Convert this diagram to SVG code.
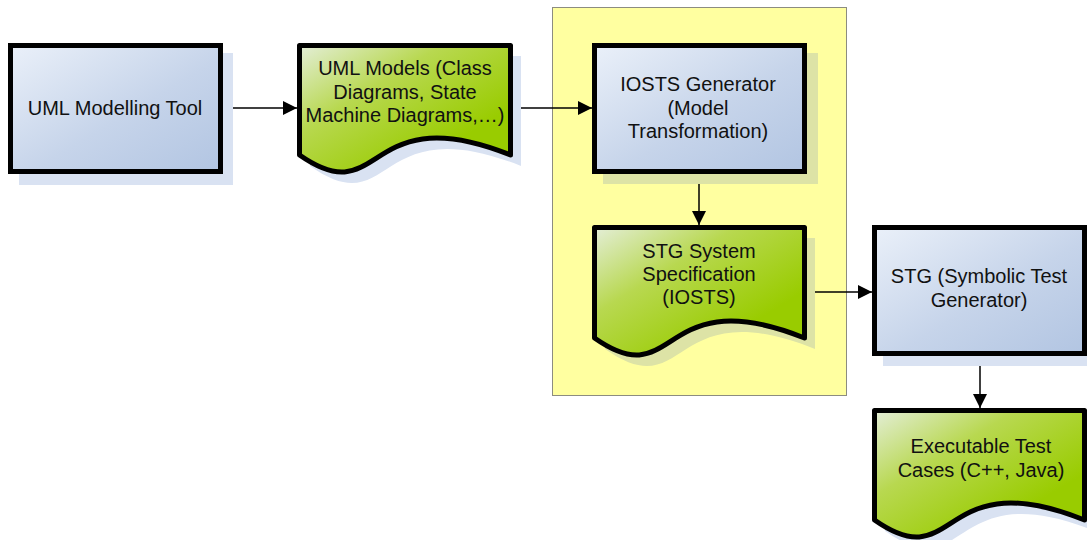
<svg xmlns="http://www.w3.org/2000/svg" width="1087" height="540" viewBox="0 0 1087 540">
  <style>
    .lbl { font-family: "Liberation Sans", Arial, sans-serif; font-size: 20px; fill: #111; text-anchor: middle; }
    .proc { fill: url(#blueFill); stroke: #000; stroke-width: 5; stroke-linejoin: miter; }
    .doc { fill: url(#greenFill); stroke: #000; stroke-width: 5; stroke-linejoin: round; }
    .shadow-w { fill: #d9e2f2; }
    .shadow-y { fill: #dde3a6; }
    .conn { stroke: #000; stroke-width: 1.5; fill: none; marker-end: url(#arrow); }
  </style>
  <defs>
    <linearGradient id="blueFill" x1="0" y1="0" x2="1" y2="1">
      <stop offset="0" stop-color="#eaf0f9"/>
      <stop offset="0.55" stop-color="#c6d4ea"/>
      <stop offset="1" stop-color="#b2c5e2"/>
    </linearGradient>
    <linearGradient id="greenFill" x1="0" y1="0" x2="0.75" y2="0.75">
      <stop offset="0" stop-color="#e4eed8"/>
      <stop offset="0.45" stop-color="#b8d850"/>
      <stop offset="1" stop-color="#99cc00"/>
    </linearGradient>
    <marker id="arrow" viewBox="0 0 14 14" refX="14" refY="7" markerWidth="14" markerHeight="14" markerUnits="userSpaceOnUse" orient="auto">
      <path d="M0,0 L14,7 L0,14 Z" fill="#000"/>
    </marker>
  </defs>

  <!-- container around the IOSTS generation steps -->
  <rect id="container" x="552.5" y="7.5" width="294" height="388" fill="#ffffa0" stroke="#8c8c80" stroke-width="1"/>

  <!-- connectors -->
  <g id="connectors">
    <line class="conn" x1="223" y1="108" x2="297" y2="108"/>
    <line class="conn" x1="513" y1="108" x2="592" y2="108"/>
    <line class="conn" x1="699" y1="173" x2="699" y2="225"/>
    <line class="conn" x1="807" y1="292" x2="872" y2="292"/>
    <line class="conn" x1="980" y1="355" x2="980" y2="408"/>
  </g>

  <!-- UML Modelling Tool -->
  <g id="uml-tool">
    <rect class="shadow-w" x="19" y="53" width="214" height="132"/>
    <rect class="proc" x="10.5" y="45.5" width="210" height="126"/>
    <text class="lbl" x="115" y="115">UML Modelling Tool</text>
  </g>

  <!-- UML Models document -->
  <g id="uml-models">
    <path class="shadow-w" d="M310,56 H521 V166 C373,107 394,225 310,166 Z"/>
    <path class="doc" d="M299.5,45.5 H510.5 V155 C363,96 384,214 299.5,155 Z"/>
    <text class="lbl" x="405" y="75">UML Models (Class</text>
    <text class="lbl" x="405" y="98.5">Diagrams, State</text>
    <text class="lbl" x="405" y="122">Machine Diagrams,…)</text>
  </g>

  <!-- IOSTS Generator -->
  <g id="iosts-generator">
    <rect class="shadow-y" x="603" y="53" width="215" height="131"/>
    <rect class="proc" x="594.5" y="45.5" width="210" height="126"/>
    <text class="lbl" x="698" y="91">IOSTS Generator</text>
    <text class="lbl" x="698" y="115">(Model</text>
    <text class="lbl" x="698" y="138">Transformation)</text>
  </g>

  <!-- STG System Specification document -->
  <g id="stg-spec">
    <path class="shadow-y" d="M605,238 H815 V349 C668,290 689,408 605,349 Z"/>
    <path class="doc" d="M594.5,227.5 H804.5 V338 C657.5,279 678.5,397 594.5,338 Z"/>
    <text class="lbl" x="699" y="258">STG System</text>
    <text class="lbl" x="699" y="281">Specification</text>
    <text class="lbl" x="699" y="304">(IOSTS)</text>
  </g>

  <!-- STG -->
  <g id="stg">
    <rect class="shadow-w" x="883" y="235" width="215" height="131"/>
    <rect class="proc" x="874.5" y="227.5" width="210" height="126"/>
    <text class="lbl" x="979" y="283">STG (Symbolic Test</text>
    <text class="lbl" x="979" y="307">Generator)</text>
  </g>

  <!-- Executable Test Cases document -->
  <g id="test-cases">
    <path class="shadow-w" d="M885,421 H1095 V531 C948,472 969,590 885,531 Z"/>
    <path class="doc" d="M874.5,410.5 H1084.5 V520 C937.5,461 958.5,579 874.5,520 Z"/>
    <text class="lbl" x="981" y="453">Executable Test</text>
    <text class="lbl" x="981" y="477">Cases (C++, Java)</text>
  </g>
</svg>
